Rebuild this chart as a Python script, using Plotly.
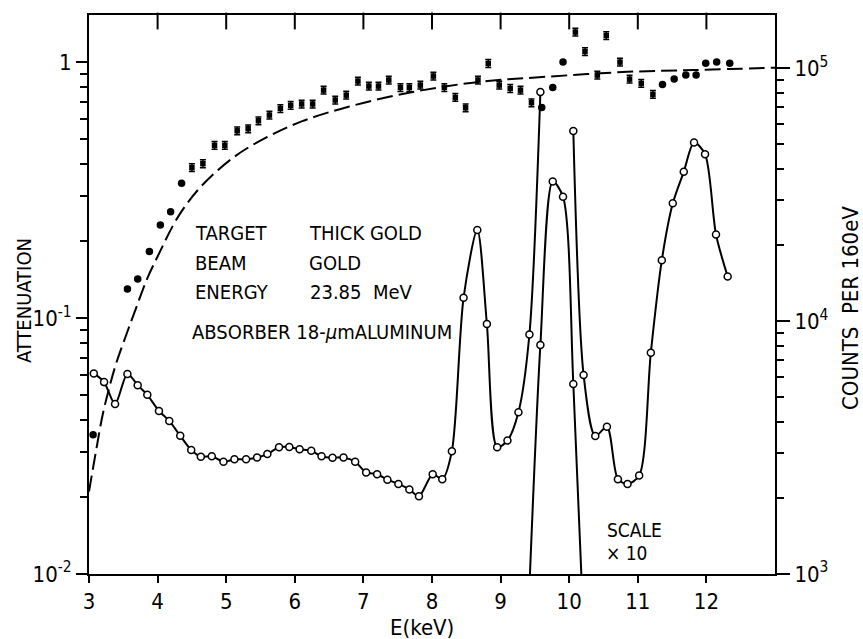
import plotly.graph_objects as go

FONT = "Liberation Sans Narrow, DejaVu Sans Condensed, Arial Narrow, sans-serif"

# ---- Attenuation data (left axis) ----
att_dot_E = [3.06, 3.22, 3.56, 3.71, 3.88, 4.04, 4.19, 4.35,
             9.60, 9.76, 9.91,
             11.36, 11.53, 11.70, 11.85, 11.99, 12.15, 12.34]
att_dot_A = [0.035, 0.056, 0.130, 0.142, 0.182, 0.231, 0.260, 0.336,
             0.665, 0.796, 1.00,
             0.818, 0.858, 0.89, 0.89, 0.99, 1.0, 0.99]

att_sq_E = [4.50, 4.66, 4.83, 4.98, 5.16, 5.32, 5.47, 5.63, 5.79, 5.94,
            6.10, 6.26, 6.42, 6.59, 6.75, 6.92, 7.08, 7.22, 7.37, 7.54,
            7.67, 7.83, 8.02, 8.18, 8.34, 8.49, 8.67, 8.82, 8.98, 9.14,
            9.29, 9.45, 10.09, 10.23, 10.41, 10.54, 10.74, 10.88, 11.05, 11.22]
att_sq_A = [0.387, 0.401, 0.473, 0.473, 0.539, 0.549, 0.590, 0.621, 0.659, 0.678,
            0.686, 0.686, 0.777, 0.711, 0.743, 0.843, 0.806, 0.806, 0.851, 0.796,
            0.796, 0.813, 0.882, 0.796, 0.728, 0.663, 0.851, 0.988, 0.813, 0.789,
            0.777, 0.694, 1.31, 1.10, 0.89, 1.27, 1.00, 0.858, 0.826, 0.748]

# theoretical attenuation (dashed)
theory_E = [3.0, 3.1, 3.2, 3.3, 3.4, 3.55, 3.7, 3.85, 4.0, 4.3, 4.63, 5.12,
            5.6, 6.09, 6.77, 7.74, 8.71, 9.69, 10.85, 11.82, 13.0]
theory_A = [0.021, 0.030, 0.042, 0.054, 0.067, 0.087, 0.112, 0.143, 0.174, 0.249,
            0.326, 0.427, 0.510, 0.585, 0.668, 0.766, 0.838, 0.877, 0.916, 0.931, 0.951]

# ---- X-ray spectrum (right axis), counts per 160 eV ----
counts_E = [3.07, 3.22, 3.38, 3.56, 3.71, 3.85, 4.02, 4.17, 4.33,
            4.49, 4.63, 4.79, 4.96, 5.12, 5.29, 5.45, 5.60, 5.77,
            5.92, 6.07, 6.24, 6.39, 6.55, 6.71, 6.88, 7.04, 7.20,
            7.35, 7.51, 7.67, 7.81, 8.01, 8.15, 8.29, 8.46, 8.66,
            8.80, 8.95, 9.10, 9.26, 9.42, 9.58, 9.76, 9.91, 10.06,
            10.21, 10.38, 10.55, 10.71, 10.85, 11.02, 11.19, 11.35, 11.51,
            11.67, 11.82, 11.98, 12.14, 12.31]
counts = [6210, 5740, 4700, 6180, 5580, 5110, 4410, 4030, 3520,
          3090, 2910, 2920, 2780, 2840, 2840, 2890, 2980, 3170,
          3180, 3110, 3070, 2920, 2880, 2890, 2780, 2520, 2480,
          2360, 2270, 2160, 2030, 2480, 2370, 3060, 12360, 22900,
          9730, 3170, 3370, 4360, 8850, 80500, 356000, 310000, 56400,
          6120, 3510, 3820, 2370, 2270, 2450, 7500, 17400, 29200,
          38900, 50800, 45700, 22000, 15000]

SCALE = 10
scaled_range = (9.40, 10.25)   # Au L-alpha region re-drawn at scale x10

x_ticks_bottom = list(range(3, 13))
x_ticks_top = list(range(4, 13))

Y_LEFT_RANGE = [-2, 0.184]
Y_RIGHT_RANGE = [3, 5.21]
ymax_right = 10 ** Y_RIGHT_RANGE[1]

main_y = [c if c < ymax_right else None for c in counts]
sc_E = [e for e in counts_E if scaled_range[0] <= e <= scaled_range[1]]
sc_y = [c / SCALE for e, c in zip(counts_E, counts) if scaled_range[0] <= e <= scaled_range[1]]

PL, PW, PT, PH = 89, 686, 15, 559
DECADE_PX = PH / (Y_LEFT_RANGE[1] - Y_LEFT_RANGE[0])
TOP_TICK_LEN = 12

fig = go.Figure()

open_marker = dict(symbol="circle", size=7, color="white",
                   line=dict(color="black", width=1.5))

# attenuation on (x, y)
fig.add_trace(go.Scatter(x=theory_E, y=theory_A, mode="lines",
                         line=dict(color="black", width=2, dash="16px,6px", shape="spline")))
fig.add_trace(go.Scatter(x=att_sq_E, y=att_sq_A, mode="markers",
                         marker=dict(symbol="square", size=5.5, color="black"),
                         error_y=dict(type="percent", value=3.5, color="black",
                                      thickness=1.5, width=3)))
fig.add_trace(go.Scatter(x=att_dot_E, y=att_dot_A, mode="markers",
                         marker=dict(symbol="circle", size=7.5, color="black")))

# spectrum on (x, y2)
fig.add_trace(go.Scatter(x=counts_E, y=main_y, mode="lines+markers",
                         line=dict(color="black", width=2, shape="spline", smoothing=0.8),
                         marker=open_marker, connectgaps=False, yaxis="y2"))
fig.add_trace(go.Scatter(x=sc_E, y=sc_y, mode="lines+markers",
                         line=dict(color="black", width=2, shape="spline", smoothing=0.8),
                         marker=open_marker, yaxis="y2"))

# inward ticks hanging from the top frame (vertical line markers centred
# half a tick-length below the top edge)
y_tick_centre = 10 ** (Y_LEFT_RANGE[1] - (TOP_TICK_LEN / 2) / DECADE_PX)
fig.add_trace(go.Scatter(x=x_ticks_top, y=[y_tick_centre] * len(x_ticks_top),
                         mode="markers",
                         marker=dict(symbol="line-ns-open", size=TOP_TICK_LEN,
                                     color="black",
                                     line=dict(color="black", width=2)),
                         cliponaxis=False, hoverinfo="skip"))

minor_left = [m * 10 ** p for p in (-2, -1) for m in range(2, 10)]
minor_right = [m * 10 ** p for p in (3, 4) for m in range(2, 10)]

axis_common = dict(showgrid=False, zeroline=False, linecolor="black",
                   tickcolor="black", tickwidth=2)

fig.update_layout(
    width=863, height=639,
    margin=dict(l=89, r=88, t=15, b=65),
    paper_bgcolor="white", plot_bgcolor="white",
    showlegend=False,
    font=dict(family=FONT, size=22, color="black"),
    xaxis=dict(range=[3, 13], tickmode="array", tickvals=x_ticks_bottom,
               ticks="outside", ticklen=7, showline=True, linewidth=2,
               mirror=True, tickfont=dict(size=22), **axis_common),
    yaxis=dict(type="log", range=Y_LEFT_RANGE, tickmode="array",
               tickvals=[0.01, 0.1, 1],
               ticktext=["10<sup>-2</sup>", "10<sup>-1</sup>", "1"],
               ticks="outside", ticklen=11, showline=True, linewidth=2,
               tickfont=dict(size=22),
               minor=dict(tickmode="array", tickvals=minor_left, ticks="outside",
                          ticklen=7, tickwidth=1.5, tickcolor="black"),
               **axis_common),
    yaxis2=dict(type="log", range=Y_RIGHT_RANGE, overlaying="y", side="right",
                anchor="x", tickmode="array", tickvals=[1e3, 1e4, 1e5],
                ticktext=["10<sup>3</sup>", "10<sup>4</sup>", "10<sup>5</sup>"],
                ticks="outside", ticklen=13, showline=True, linewidth=2,
                tickfont=dict(size=22),
                minor=dict(tickmode="array", tickvals=minor_right, ticks="outside",
                           ticklen=7, tickwidth=1.5, tickcolor="black"),
                **axis_common),
)


def px(x):
    return (x - PL) / PW


def py(y):
    return 1 - (y - PT) / PH


def note(text, x, y, size=20, anchor="left", angle=0):
    fig.add_annotation(text=text, x=px(x), y=py(y), xref="paper", yref="paper",
                       xanchor=anchor, yanchor="middle", showarrow=False,
                       textangle=angle, font=dict(family=FONT, size=size, color="black"))


note("TARGET", 193, 233)
note("THICK GOLD", 307, 233)
note("BEAM", 193, 263)
note("GOLD", 307, 263)
note("ENERGY", 193, 292)
note("23.85  MeV", 308, 292)
note("ABSORBER 18-<i>μ</i>mALUMINUM", 190, 332)
note("SCALE", 605, 530, size=19)
note("× 10", 604, 553, size=19)

note("ATTENUATION", 24, 301, anchor="center", angle=-90)
note("COUNTS  PER 160eV", 850, 308, size=22, anchor="center", angle=-90)
note("E(keV)", 422, 627, size=22, anchor="center")

fig.write_html("out.html")
